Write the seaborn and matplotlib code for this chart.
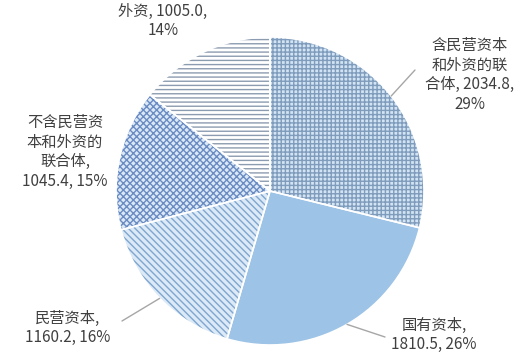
import numpy as np
import matplotlib
matplotlib.use("Agg")
import matplotlib.pyplot as plt
import seaborn as sns

# 数据（亿元）
labels = ["含民营资本\n和外资的联\n合体", "国有资本", "民营资本", "不含民营资\n本和外资的\n联合体", "外资"]
values = [2034.8, 1810.5, 1160.2, 1045.4, 1005.0]
label_fmt = ["{n}, {v:.1f},\n{p}", "{n},\n{v:.1f}, {p}", "{n},\n{v:.1f}, {p}", "{n},\n{v:.1f}, {p}", "{n}, {v:.1f},\n{p}"]

face_colors = ["#d2e4f3", "#9dc3e6", "#dce9f6", "#dbe9f7", "#ffffff"]
hatch_colors = ["#7f9cbc", "#9dc3e6", "#7ea6cf", "#6a8bc2", "#8c9cb0"]
hatches = ["++++", "", "\\\\\\\\\\", "xxxxx", "----"]

sns.set_theme(style="white")
plt.rcParams["font.family"] = ["Noto Sans CJK SC", "DejaVu Sans"]
plt.rcParams["hatch.linewidth"] = 1.0

W, H = 517, 363
fig = plt.figure(figsize=(W / 100, H / 100), dpi=100)
ax = fig.add_axes([0, 0, 1, 1])

cx, cy, r = 270, H - 191, 154

# hatched fill
wedges, _ = ax.pie(values, startangle=90, counterclock=False, center=(cx, cy), radius=r,
                   colors=face_colors, frame=True)
for w, hc, hp in zip(wedges, hatch_colors, hatches):
    w.set_hatch(hp)
    w.set_edgecolor(hc)
    w.set_linewidth(0)
# white borders on top
ax.pie(values, startangle=90, counterclock=False, center=(cx, cy), radius=r,
       frame=True, wedgeprops=dict(fill=False, edgecolor="white", linewidth=1.2))
ax.set_xlim(0, W)
ax.set_ylim(0, H)
ax.set_aspect("equal")
ax.axis("off")

total = sum(values)
pcts = [f"{round(v / total * 100):.0f}%" for v in values]

# label positions (pixels, top-left origin) and leader line ends
text_pos = [(470, 75), (434, 335), (68, 328), (65, 152), (163, 21)]
leader_end = [(415, 70), (385, 337), (122, 321), None, None]

for i, w in enumerate(wedges):
    txt = label_fmt[i].format(n=labels[i], v=values[i], p=pcts[i])
    tx, ty = text_pos[i]
    ax.text(tx, H - ty, txt, ha="center", va="center", fontsize=11,
            color="#404040", linespacing=1.2)
    if leader_end[i] is not None:
        ang = np.deg2rad((w.theta1 + w.theta2) / 2)
        ex, ey = cx + r * np.cos(ang), cy + r * np.sin(ang)
        lx, ly = leader_end[i]
        ax.plot([ex, lx], [ey, H - ly], color="#a6a6a6", linewidth=1)

fig.savefig("out.png", dpi=100)
